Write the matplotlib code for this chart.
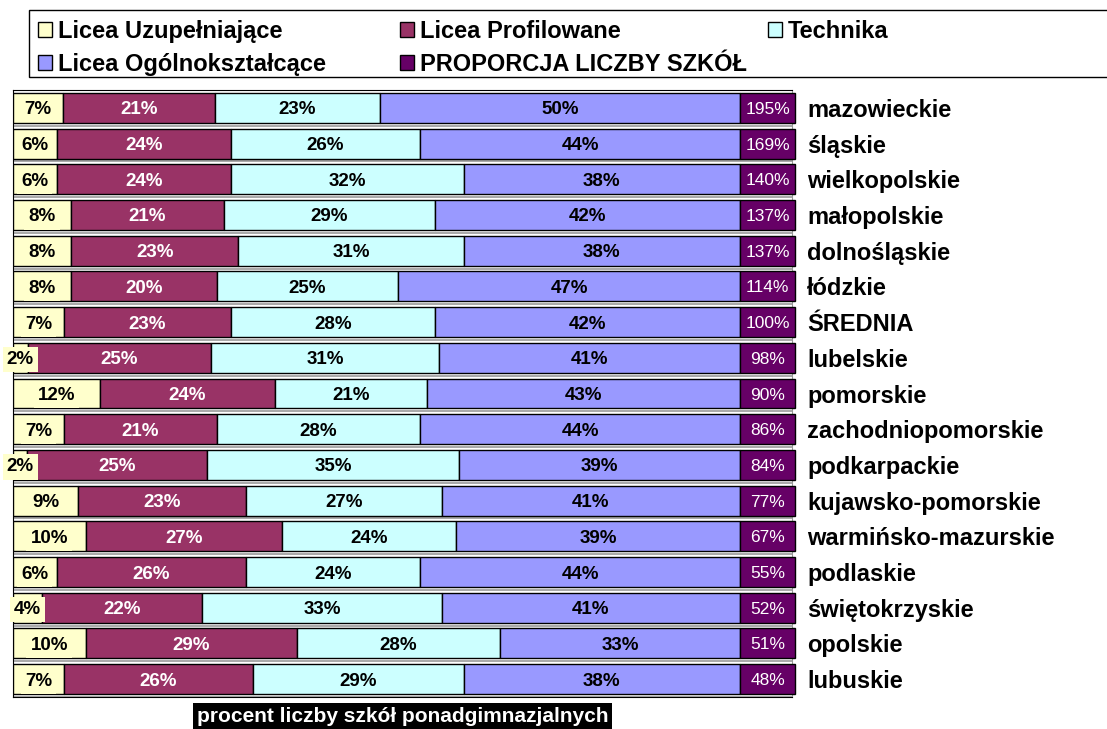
import numpy as np
import matplotlib
matplotlib.use('Agg')
import matplotlib.pyplot as plt
from matplotlib.patches import Rectangle

plt.rcParams['font.family'] = ['Liberation Sans', 'DejaVu Sans']

# data, top to bottom
regions = ['mazowieckie', 'śląskie', 'wielkopolskie', 'małopolskie', 'dolnośląskie',
           'łódzkie', 'ŚREDNIA', 'lubelskie', 'pomorskie', 'zachodniopomorskie',
           'podkarpackie', 'kujawsko-pomorskie', 'warmińsko-mazurskie', 'podlaskie',
           'świętokrzyskie', 'opolskie', 'lubuskie']
uzup = [7, 6, 6, 8, 8, 8, 7, 2, 12, 7, 2, 9, 10, 6, 4, 10, 7]
profil = [21, 24, 24, 21, 23, 20, 23, 25, 24, 21, 25, 23, 27, 26, 22, 29, 26]
techn = [23, 26, 32, 29, 31, 25, 28, 31, 21, 28, 35, 27, 24, 24, 33, 28, 29]
ogoln = [50, 44, 38, 42, 38, 47, 42, 41, 43, 44, 39, 41, 39, 44, 41, 33, 38]
proporcja = [195, 169, 140, 137, 137, 114, 100, 98, 90, 86, 84, 77, 67, 55, 52, 51, 48]

series_names = ['Licea Uzupełniające', 'Licea Profilowane', 'Technika', 'Licea Ogólnokształcące']
colors = ['#FFFFCC', '#993366', '#CCFFFF', '#9999FF']
text_colors = ['black', 'white', 'black', 'black']
prop_color = '#660066'

W, H = 1107, 729
fig = plt.figure(figsize=(W / 100, H / 100), dpi=100)
ax = fig.add_axes([13 / W, 1 - 697 / H, (792 - 13) / W, (697 - 90) / H])

y = np.arange(len(regions))
vals = np.array([uzup, profil, techn, ogoln], dtype=float)
# segments are drawn as shares of 100% (the printed labels are rounded)
shares = vals / vals.sum(axis=0) * 100

bh = 0.84
left = np.zeros(len(regions))
containers = []
for k in range(4):
    bc = ax.barh(y, shares[k], left=left, height=bh, color=colors[k],
                 edgecolor='black', linewidth=1, label=series_names[k], zorder=3)
    containers.append(bc)
    for i in range(len(regions)):
        cx = left[i] + shares[k][i] / 2
        if k == 0:
            ax.text(cx, y[i], '%d%%' % vals[k][i], ha='center', va='center_baseline',
                    fontsize=13.5, fontweight='bold', color='black', zorder=5,
                    bbox=dict(facecolor='#FFFFCC', edgecolor='none', pad=3),
                    clip_on=False)
        else:
            ax.text(cx, y[i], '%d%%' % vals[k][i], ha='center', va='center_baseline',
                    fontsize=13.5, fontweight='bold', color=text_colors[k], zorder=5)
    left = left + shares[k]

# proportion box at the right end of each row
pw = 7.57
pc = ax.barh(y, [pw] * len(regions), left=100, height=bh, color=prop_color,
             edgecolor='black', linewidth=1, label='PROPORCJA LICZBY SZKÓŁ',
             zorder=3, clip_on=False)
for i in range(len(regions)):
    ax.text(100 + pw / 2, y[i], '%d%%' % proporcja[i], ha='center', va='center_baseline',
            fontsize=12.5, color='white', zorder=5, clip_on=False)

# row separators
for b in np.arange(-0.5, len(regions), 1.0):
    ax.axhline(b, color='#999999', linewidth=1.2, zorder=1)

ax.set_xlim(0, 107.15)
ax.set_ylim(len(regions) - 0.5, -0.5)
ax.set_xticks([])
ax.set_yticks(y)
ax.set_yticklabels(regions, fontsize=17, fontweight='bold')
ax.yaxis.tick_right()
ax.tick_params(axis='y', length=0, pad=11)
for s in ['left', 'top', 'bottom']:
    ax.spines[s].set_color('black')
ax.spines['right'].set_color('#999999')

ax.set_xlabel('procent liczby szkół ponadgimnazjalnych', fontsize=15, fontweight='bold',
              color='white', labelpad=7, bbox=dict(facecolor='black', edgecolor='none', pad=3))

# legend: three columns placed separately, with one frame around them
fig.add_artist(Rectangle((29 / W, 1 - 77 / H), (1110 - 29) / W, 67 / H,
                         transform=fig.transFigure, facecolor='white',
                         edgecolor='black', linewidth=1, clip_on=False))
cols = [([containers[0], containers[3]], [series_names[0], series_names[3]], 38),
        ([containers[1], pc], [series_names[1], 'PROPORCJA LICZBY SZKÓŁ'], 400),
        ([containers[2]], [series_names[2]], 768)]
for handles, labels, x0 in cols:
    fig.legend(handles, labels, loc='upper left', bbox_to_anchor=(x0 / W, 1 - 20 / H),
               frameon=False, borderpad=0, borderaxespad=0, handlelength=0.6,
               handleheight=0.6, handletextpad=0.25, labelspacing=0.42,
               prop=dict(size=17, weight='bold'))

fig.savefig('out.png', dpi=100)
